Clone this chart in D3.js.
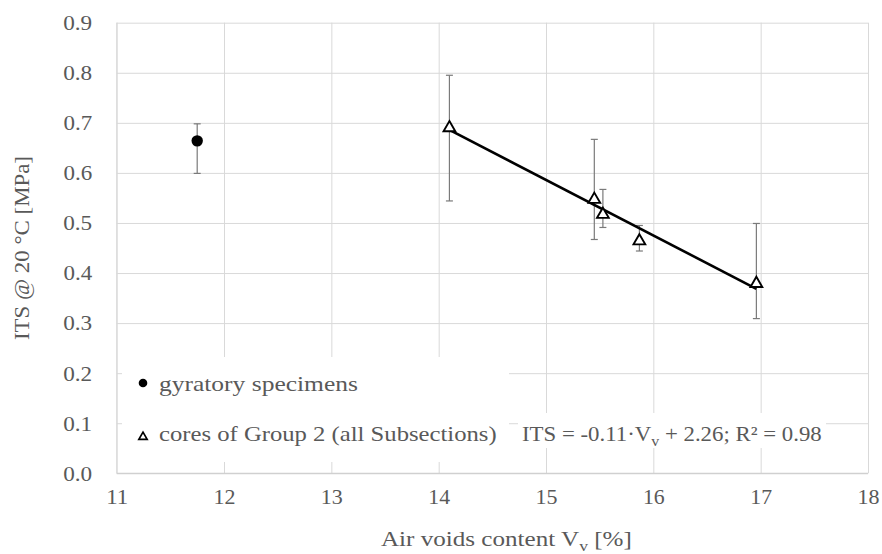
<!DOCTYPE html>
<html>
<head>
<meta charset="utf-8">
<script src="https://cdn.jsdelivr.net/npm/d3@7"></script>
<style>
  html, body { margin: 0; padding: 0; background: #fff; }
  svg { display: block; }
  text { font-family: "Liberation Serif", "Times New Roman", serif; fill: #595959; }
</style>
</head>
<body>
<svg id="chart" width="882" height="554"></svg>
<script>
// Gyratory-compacted specimens
const gyrVoids = [11.75];
const gyrITS   = [0.664];
const gyrLow   = [0.599];
const gyrHigh  = [0.698];

// Cores of Group 2 (all subsections)
const coreVoids = [14.10, 15.45, 15.53, 15.87, 16.96];
const coreITS   = [0.692, 0.549, 0.519, 0.466, 0.381];
const coreLow   = [0.544, 0.467, 0.491, 0.444, 0.309];
const coreHigh  = [0.795, 0.667, 0.567, 0.495, 0.499];

// Axis ticks and labels
const xTicks = [11, 12, 13, 14, 15, 16, 17, 18];
const yTicks = [0.0, 0.1, 0.2, 0.3, 0.4, 0.5, 0.6, 0.7, 0.8, 0.9];
const legendLabels = ["gyratory specimens", "cores of Group 2 (all Subsections)"];
const trendLabel = "ITS = -0.11\u00B7V";
const trendLabelTail = " + 2.26; R\u00B2 = 0.98";

const svg = d3.select("#chart");
const plotL = 116.7, plotR = 868, plotT = 22.7, plotB = 473.3;
const W = plotR - plotL, H = plotB - plotT;

const x = d3.scaleLinear().domain([11, 18]).range([plotL, plotR]);
const y = d3.scaleLinear().domain([0, 0.9]).range([plotB, plotT]);

const FS = 21.5;
const grid = "#d9d9d9";

// stretch a text horizontally about its anchor x so it spans the given width
function fitWidth(node, width) {
  const bb = node.getBBox();
  const ax = +node.getAttribute("x") || 0;
  const s = width / bb.width;
  node.setAttribute("transform", `translate(${ax},0) scale(${s},1) translate(${-ax},0)`);
}

// gridlines + tick labels
const gx = svg.append("g")
  .attr("transform", `translate(0,${plotB})`)
  .call(d3.axisBottom(x).tickValues(xTicks).tickFormat(d3.format("d"))
        .tickSize(-H).tickPadding(15));
gx.select(".domain").remove();
gx.selectAll(".tick line").attr("stroke", grid).attr("stroke-width", 1);
gx.selectAll(".tick text").attr("font-size", FS).attr("fill", "#595959")
  .attr("font-family", "Liberation Serif")
  .each(function() { fitWidth(this, 22); });

const gy = svg.append("g")
  .attr("transform", `translate(${plotL},0)`)
  .call(d3.axisLeft(y).tickValues(yTicks).tickFormat(d3.format(".1f"))
        .tickSize(-W).tickPadding(24.5));
gy.select(".domain").remove();
gy.selectAll(".tick line").attr("stroke", grid).attr("stroke-width", 1);
gy.selectAll(".tick text").attr("font-size", FS).attr("fill", "#595959")
  .attr("font-family", "Liberation Serif")
  .each(function() { fitWidth(this, 29); });

// axis lines
svg.append("line").attr("x1", plotL).attr("x2", plotR).attr("y1", plotB).attr("y2", plotB)
  .attr("stroke", "#d0d0d0").attr("stroke-width", 1.2);
svg.append("line").attr("x1", plotL).attr("x2", plotL).attr("y1", plotT).attr("y2", plotB)
  .attr("stroke", grid).attr("stroke-width", 1);

// error bars
const gyr = gyrVoids.map((v, i) => ({ v, its: gyrITS[i], lo: gyrLow[i], hi: gyrHigh[i] }));
const cores = coreVoids.map((v, i) => ({ v, its: coreITS[i], lo: coreLow[i], hi: coreHigh[i] }));
const errG = svg.append("g").attr("stroke", "#7a7a7a").attr("stroke-width", 1.2);
[...gyr, ...cores].forEach(d => {
  const cx = x(d.v);
  errG.append("line").attr("x1", cx).attr("x2", cx).attr("y1", y(d.lo)).attr("y2", y(d.hi));
  errG.append("line").attr("x1", cx - 3.5).attr("x2", cx + 3.5).attr("y1", y(d.lo)).attr("y2", y(d.lo));
  errG.append("line").attr("x1", cx - 3.5).attr("x2", cx + 3.5).attr("y1", y(d.hi)).attr("y2", y(d.hi));
});

// least-squares trend line through the cores
const mx = d3.mean(coreVoids), my = d3.mean(coreITS);
const sxy = d3.sum(coreVoids, (v, i) => (v - mx) * (coreITS[i] - my));
const sxx = d3.sum(coreVoids, v => (v - mx) ** 2);
const slope = sxy / sxx, intercept = my - slope * mx;
const xr = d3.extent(coreVoids);
svg.append("path")
  .datum(xr.map(v => [v, intercept + slope * v]))
  .attr("d", d3.line().x(d => x(d[0])).y(d => y(d[1])))
  .attr("fill", "none").attr("stroke", "#000").attr("stroke-width", 2.6);

// markers
const tri = d3.symbol().type(d3.symbolTriangle);
svg.append("g").selectAll("path").data(cores).join("path")
  .attr("d", tri.size(60))
  .attr("transform", d => `translate(${x(d.v)},${y(d.its) + 1})`)
  .attr("fill", "#fff").attr("stroke", "#000").attr("stroke-width", 1.9);
svg.append("g").selectAll("circle").data(gyr).join("circle")
  .attr("cx", d => x(d.v)).attr("cy", d => y(d.its)).attr("r", 5.7)
  .attr("fill", "#000");

// legend
svg.append("rect").attr("x", 122).attr("y", 357).attr("width", 387).attr("height", 105).attr("fill", "#fff");
svg.append("circle").attr("cx", 143).attr("cy", 383).attr("r", 4.3).attr("fill", "#000");
svg.append("path").attr("d", tri.size(30)).attr("transform", "translate(143,437)")
  .attr("fill", "#fff").attr("stroke", "#000").attr("stroke-width", 1.7);
const leg1 = svg.append("text").attr("x", 159).attr("y", 391).attr("font-size", FS).text(legendLabels[0]);
fitWidth(leg1.node(), 199);
const leg2 = svg.append("text").attr("x", 159).attr("y", 441).attr("font-size", FS).text(legendLabels[1]);
fitWidth(leg2.node(), 338);

// trend equation label
svg.append("rect").attr("x", 518).attr("y", 413).attr("width", 308).attr("height", 35).attr("fill", "#fff");
const eq = svg.append("text").attr("x", 522).attr("y", 441).attr("font-size", FS);
eq.append("tspan").text(trendLabel);
eq.append("tspan").attr("dy", 5).attr("font-size", FS * 0.7).text("v");
eq.append("tspan").attr("dy", -5).text(trendLabelTail);
fitWidth(eq.node(), 300);

// axis titles
const xt = svg.append("text").attr("x", 381).attr("y", 546).attr("font-size", FS);
xt.append("tspan").text("Air voids content V");
xt.append("tspan").attr("dy", 5).attr("font-size", FS * 0.7).text("v");
xt.append("tspan").attr("dy", -5).text(" [%]");
fitWidth(xt.node(), 251);

svg.append("text")
  .attr("transform", `translate(29,${(plotT + plotB) / 2}) rotate(-90)`)
  .attr("text-anchor", "middle").attr("font-size", FS)
  .attr("textLength", 184).attr("lengthAdjust", "spacingAndGlyphs")
  .text("ITS @ 20 \u00B0C [MPa]");
</script>
</body>
</html>
